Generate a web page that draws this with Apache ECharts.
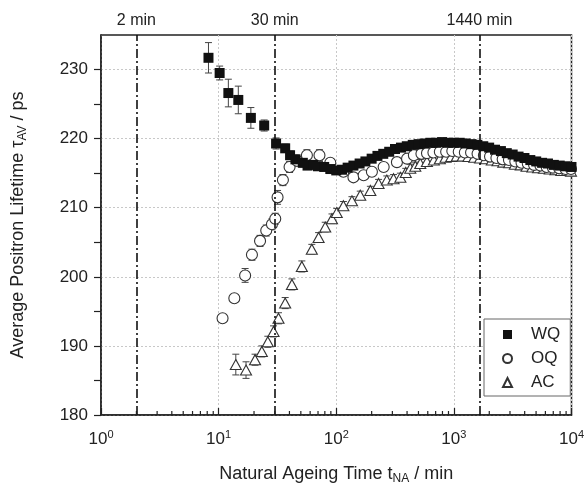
<!DOCTYPE html>
<html>
<head>
<meta charset="utf-8">
<script src="https://cdn.jsdelivr.net/npm/echarts@6/dist/echarts.min.js"></script>
<style>html,body{margin:0;padding:0;background:#fff}#c{width:587px;height:491px}</style>
</head>
<body>
<div id="c"></div>
<script>
// ---- data (time in min, lifetime in ps, error in ps) ----
const wqTime = [8.2, 10.2, 12.1, 14.7, 18.8, 24.4, 30.8, 36.8, 40.5, 45, 52, 57, 63.5, 70, 79, 89, 100, 112, 125, 140, 158, 177, 200, 224, 251, 282, 316, 355, 398, 447, 501, 562, 631, 708, 794, 891, 1000, 1122, 1259, 1413, 1585, 1778, 1995, 2239, 2512, 2818, 3162, 3548, 3981, 4467, 5012, 5623, 6310, 7079, 7943, 8913, 10000];
const wqValue = [231.7, 229.5, 226.6, 225.6, 223.0, 221.9, 219.3, 218.6, 217.6, 217.0, 216.5, 216.1, 216.2, 216.0, 215.9, 215.6, 215.4, 215.5, 215.8, 216.1, 216.4, 216.7, 217.1, 217.5, 217.8, 218.1, 218.5, 218.7, 218.9, 219.1, 219.2, 219.3, 219.4, 219.4, 219.5, 219.4, 219.4, 219.4, 219.3, 219.2, 219.1, 218.9, 218.7, 218.4, 218.2, 217.9, 217.7, 217.4, 217.2, 216.9, 216.7, 216.5, 216.4, 216.2, 216.1, 216.0, 215.9];
const wqError = [2.2, 1.0, 2.0, 2.0, 1.5, 0.8, 0.8, 0.6, 0.6, 0.6, 0.6, 0.5, 0.5, 0.5, 0.5, 0.5, 0.5, 0.5, 0.5, 0.5, 0.5, 0.5, 0.5, 0.5, 0.5, 0.5, 0.5, 0.5, 0.5, 0.5, 0.5, 0.5, 0.5, 0.5, 0.5, 0.5, 0.5, 0.5, 0.5, 0.5, 0.5, 0.5, 0.5, 0.5, 0.5, 0.5, 0.5, 0.5, 0.5, 0.5, 0.5, 0.5, 0.5, 0.5, 0.5, 0.5, 0.5];

const oqTime = [10.8, 13.6, 16.8, 19.2, 22.5, 25.4, 28.4, 30.3, 31.7, 35.2, 40.1, 46.3, 56.3, 72, 89, 115, 140, 171, 201, 253, 328, 400, 457, 530, 591, 670, 760, 860, 970, 1100, 1240, 1400, 1590, 1800, 2030, 2300, 2600, 2940, 3330, 3760, 4250, 4810, 5440, 6150, 6950, 7860, 8890, 9900];
const oqValue = [194.0, 196.9, 200.2, 203.2, 205.2, 206.7, 207.6, 208.4, 211.5, 214.0, 215.9, 216.8, 217.6, 217.6, 216.5, 215.2, 214.4, 214.7, 215.2, 215.9, 216.6, 217.1, 217.6, 217.8, 217.9, 218.0, 218.1, 218.1, 218.2, 218.1, 218.0, 218.0, 217.8, 217.6, 217.4, 217.2, 217.0, 216.9, 216.7, 216.5, 216.4, 216.2, 216.1, 215.9, 215.8, 215.7, 215.6, 215.6];
const oqError = [0.5, 0.5, 1.0, 0.8, 0.8, 0.8, 0.8, 0.8, 1.0, 0.8, 0.8, 0.8, 0.8, 0.8, 0.6, 0.5, 0.5, 0.5, 0.5, 0.5, 0.5, 0.5, 0.5, 0.5, 0.5, 0.5, 0.5, 0.5, 0.5, 0.5, 0.5, 0.5, 0.5, 0.5, 0.5, 0.5, 0.5, 0.5, 0.5, 0.5, 0.5, 0.5, 0.5, 0.5, 0.5, 0.5, 0.5, 0.5];

const acTime = [14.0, 17.1, 20.4, 23.3, 26.2, 29.3, 32.3, 36.8, 42, 51, 62, 70.8, 80.6, 92, 101, 115, 136, 160, 195, 229, 269, 307, 351, 390, 426, 470, 518, 590, 676, 760, 850, 950, 1060, 1190, 1330, 1490, 1670, 1870, 2100, 2350, 2630, 2950, 3300, 3700, 4150, 4650, 5200, 5830, 6530, 7310, 8190, 9170, 9900];
const acValue = [187.3, 186.5, 188.0, 189.2, 190.6, 192.1, 194.0, 196.2, 198.9, 201.5, 204.0, 205.7, 207.2, 208.4, 209.3, 210.3, 211.0, 211.8, 212.5, 213.5, 214.0, 214.2, 214.4, 215.1, 215.7, 216.0, 216.4, 216.7, 216.9, 217.1, 217.3, 217.4, 217.5, 217.5, 217.4, 217.3, 217.2, 217.1, 216.9, 216.8, 216.6, 216.5, 216.3, 216.2, 216.0, 215.9, 215.8, 215.7, 215.6, 215.5, 215.4, 215.4, 215.3];
const acError = [1.5, 1.2, 0.8, 0.8, 0.8, 0.8, 0.8, 0.8, 0.8, 0.8, 0.7, 0.7, 0.7, 0.7, 0.6, 0.6, 0.6, 0.6, 0.6, 0.6, 0.6, 0.6, 0.6, 0.6, 0.6, 0.6, 0.6, 0.6, 0.6, 0.6, 0.6, 0.6, 0.6, 0.6, 0.6, 0.6, 0.6, 0.6, 0.6, 0.6, 0.6, 0.6, 0.6, 0.6, 0.6, 0.6, 0.6, 0.6, 0.6, 0.6, 0.6, 0.6, 0.6];

const seriesNames = ['WQ', 'OQ', 'AC'];
const vlinePos = [2, 30, 1650];
const vlineLabels = ['2 min', '30 min', '1440 min'];
const minorTickPos = [2,3,4,5,6,7,8,9,20,30,40,50,60,70,80,90,200,300,400,500,600,700,800,900,2000,3000,4000,5000,6000,7000,8000,9000];

const FONT = '"Liberation Sans", Arial, sans-serif';
const TXT = '#222';

function pts(t, v) { return t.map((x, i) => [x, v[i]]); }
function errs(t, v, e) { return t.map((x, i) => [x, v[i] - e[i], v[i] + e[i]]); }

function errRender(params, api) {
  const x = api.value(0);
  const lo = api.coord([x, api.value(1)]);
  const hi = api.coord([x, api.value(2)]);
  const w = 3.5;
  const st = { stroke: '#444', lineWidth: 1 };
  return { type: 'group', children: [
    { type: 'line', shape: { x1: lo[0], y1: lo[1], x2: hi[0], y2: hi[1] }, style: st },
    { type: 'line', shape: { x1: lo[0] - w, y1: lo[1], x2: lo[0] + w, y2: lo[1] }, style: st },
    { type: 'line', shape: { x1: hi[0] - w, y1: hi[1], x2: hi[0] + w, y2: hi[1] }, style: st }
  ]};
}

function minorRender(params, api) {
  const p = api.coord([api.value(0), 180]);
  return { type: 'line', shape: { x1: p[0], y1: p[1], x2: p[0], y2: p[1] - 4 }, style: { stroke: '#222', lineWidth: 1.2 } };
}

const chart = echarts.init(document.getElementById('c'));
chart.setOption({
  animation: false,
  backgroundColor: '#fff',
  textStyle: { fontFamily: FONT, color: TXT },
  grid: { left: 101, right: 15, top: 35, bottom: 76, show: true, borderColor: '#222', borderWidth: 1.5, backgroundColor: 'transparent' },
  legend: {
    data: seriesNames,
    orient: 'vertical',
    left: 484, top: 319,
    padding: [7, 10, 5, 18],
    itemWidth: 9, itemHeight: 9, itemGap: 7,
    borderColor: '#666', borderWidth: 1,
    backgroundColor: '#fff',
    textStyle: { fontSize: 17, color: TXT, fontFamily: FONT, padding: [0, 0, 0, 14] }
  },
  xAxis: {
    type: 'log', logBase: 10, min: 1, max: 10000,
    name: 'Natural Ageing Time t{sub|NA} / min',
    nameLocation: 'middle', nameGap: 48,
    nameTextStyle: { fontSize: 18, color: TXT, fontFamily: FONT, rich: { sub: { fontSize: 12, padding: [10, 0, 0, 0], color: TXT } } },
    axisLine: { lineStyle: { color: '#222', width: 1.5 } },
    axisTick: { inside: true, length: 7, lineStyle: { color: '#222', width: 1.2 } },
    axisLabel: {
      margin: 14,
      formatter: v => '{b|10}{s|' + Math.round(Math.log10(v)) + '}',
      rich: { b: { fontSize: 17, color: TXT, fontFamily: FONT }, s: { fontSize: 11, color: TXT, padding: [0, 0, 10, 0], fontFamily: FONT } }
    },
    splitLine: { show: true, lineStyle: { color: '#c8c8c8', type: [2, 2], width: 1 } }
  },
  yAxis: {
    type: 'value', min: 180, max: 235, interval: 5,
    name: 'Average Positron Lifetime τ{sub|AV} / ps',
    nameLocation: 'middle', nameGap: 72, nameRotate: 90,
    nameTextStyle: { fontSize: 18, color: TXT, fontFamily: FONT, rich: { sub: { fontSize: 12, padding: [10, 0, 0, 0], color: TXT } } },
    axisLine: { show: true, lineStyle: { color: '#222', width: 1.5 } },
    axisTick: { inside: false, length: 7, lineStyle: { color: '#222', width: 1.2 } },
    axisLabel: { margin: 13, fontSize: 17, color: TXT, showMaxLabel: false, formatter: v => (v % 10 === 0 ? String(v) : '') },
    splitLine: { show: true, lineStyle: { color: ['#c8c8c8', 'rgba(0,0,0,0)'], type: [2, 2], width: 1 } }
  },
  series: [
    { type: 'custom', name: 'minorTicks', renderItem: minorRender, data: minorTickPos.map(x => [x, 180]), silent: true, z: 5, encode: { x: 0, y: 1 } },
    { type: 'custom', name: 'errAC', renderItem: errRender, data: errs(acTime, acValue, acError), encode: { x: 0, y: [1, 2] }, silent: true, z: 2 },
    { type: 'custom', name: 'errOQ', renderItem: errRender, data: errs(oqTime, oqValue, oqError), encode: { x: 0, y: [1, 2] }, silent: true, z: 2 },
    { type: 'custom', name: 'errWQ', renderItem: errRender, data: errs(wqTime, wqValue, wqError), encode: { x: 0, y: [1, 2] }, silent: true, z: 2 },
    {
      type: 'scatter', name: 'AC', data: pts(acTime, acValue), symbol: 'triangle', symbolSize: [11, 10], z: 3,
      itemStyle: { color: '#fff', borderColor: '#333', borderWidth: 1.1, opacity: 1 }
    },
    {
      type: 'scatter', name: 'OQ', data: pts(oqTime, oqValue), symbol: 'circle', symbolSize: 11, z: 4,
      itemStyle: { color: '#fff', borderColor: '#333', borderWidth: 1.1, opacity: 1 }
    },
    {
      type: 'scatter', name: 'WQ', data: pts(wqTime, wqValue), symbol: 'rect', symbolSize: 10, z: 5,
      itemStyle: { color: '#111', borderColor: '#111', borderWidth: 0, opacity: 1 },
      markLine: {
        silent: true, symbol: 'none', animation: false,
        lineStyle: { color: '#111', type: [9, 3, 2, 3], width: 1.6 },
        label: { show: true, position: 'end', distance: 6, fontSize: 16, color: TXT, fontFamily: FONT },
        data: vlinePos.map((x, i) => ({ xAxis: x, label: { formatter: vlineLabels[i] } }))
      }
    }
  ]
});
</script>
</body>
</html>
